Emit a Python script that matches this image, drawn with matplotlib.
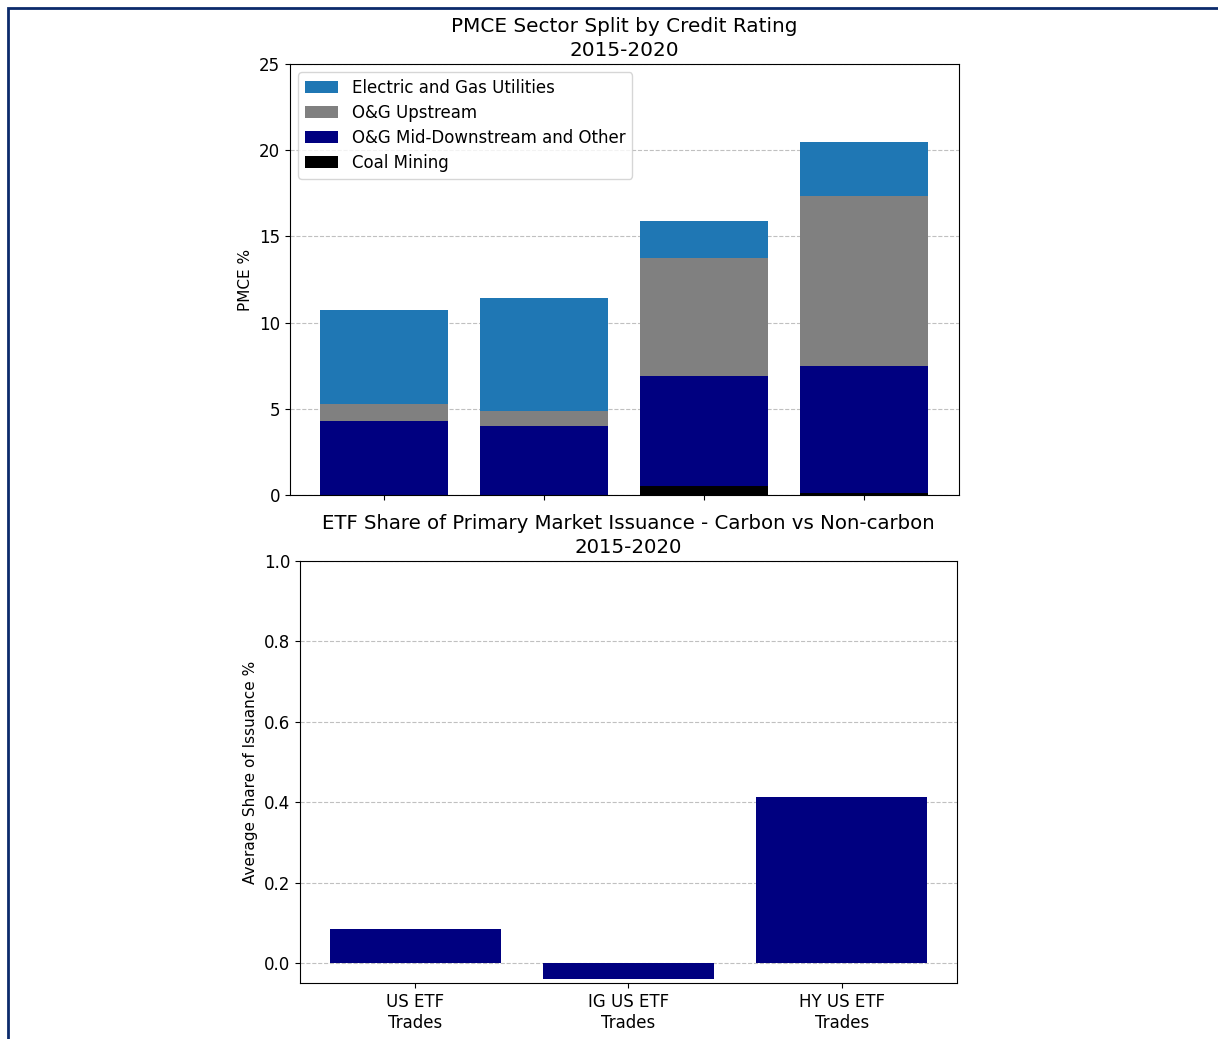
import matplotlib
matplotlib.use("Agg")
import matplotlib.pyplot as plt
from matplotlib.patches import Rectangle

# PMCE sector split (%), stacked from the bottom up
ratings = ["", "", "", ""]
coal_mining = [0.0, 0.0, 0.5, 0.1]
og_mid_downstream = [4.3, 4.0, 6.4, 7.4]
og_upstream = [0.95, 0.85, 6.85, 9.85]
electric_gas = [5.5, 6.6, 2.15, 3.15]

# ETF share of primary market issuance
etf_groups = ["US ETF\nTrades", "IG US ETF\nTrades", "HY US ETF\nTrades"]
etf_share = [0.085, -0.04, 0.413]

fig = plt.figure(figsize=(12.18, 10.39), dpi=100)
fig.patches.append(Rectangle((8 / 1218, -0.1), 1.2, 1 - 8 / 1039 + 0.1,
                             transform=fig.transFigure, fill=False,
                             edgecolor="#0b2a6b", linewidth=2))

ax1 = fig.add_axes([0.238, 0.5236, 0.549, 0.4148])
ax2 = fig.add_axes([0.2463, 0.0539, 0.5394, 0.4061])

x = range(len(coal_mining))
b1 = [c + m for c, m in zip(coal_mining, og_mid_downstream)]
b2 = [b + u for b, u in zip(b1, og_upstream)]

ax1.set_axisbelow(True)
ax1.yaxis.grid(True, linestyle="--", color="#c0c0c0")
h_coal = ax1.bar(x, coal_mining, color="black", label="Coal Mining")
h_mid = ax1.bar(x, og_mid_downstream, bottom=coal_mining, color="navy",
                label="O&G Mid-Downstream and Other")
h_up = ax1.bar(x, og_upstream, bottom=b1, color="gray", label="O&G Upstream")
h_el = ax1.bar(x, electric_gas, bottom=b2, color="tab:blue",
               label="Electric and Gas Utilities")
ax1.set_xticks(list(x))
ax1.set_xticklabels(ratings)
ax1.set_ylim(0, 25)
ax1.set_ylabel("PMCE %", fontsize=11)
ax1.set_title("PMCE Sector Split by Credit Rating\n2015-2020", fontsize=14.4,
              linespacing=1.3, pad=6)
ax1.legend(handles=[h_el, h_up, h_mid, h_coal], loc="upper left", fontsize=12,
           labelspacing=0.42, borderaxespad=0.5)
ax1.tick_params(labelsize=12)

ax2.set_axisbelow(True)
ax2.yaxis.grid(True, linestyle="--", color="#c0c0c0")
ax2.bar(range(len(etf_share)), etf_share, color="navy")
ax2.set_xticks(range(len(etf_share)))
ax2.set_xticklabels(etf_groups)
ax2.set_ylim(-0.05, 1.0)
ax2.set_ylabel("Average Share of Issuance %", fontsize=11)
ax2.set_title("ETF Share of Primary Market Issuance - Carbon vs Non-carbon\n2015-2020",
              fontsize=14.2, linespacing=1.3, pad=6)
ax2.tick_params(labelsize=12)

fig.savefig("out.png", dpi=100)
